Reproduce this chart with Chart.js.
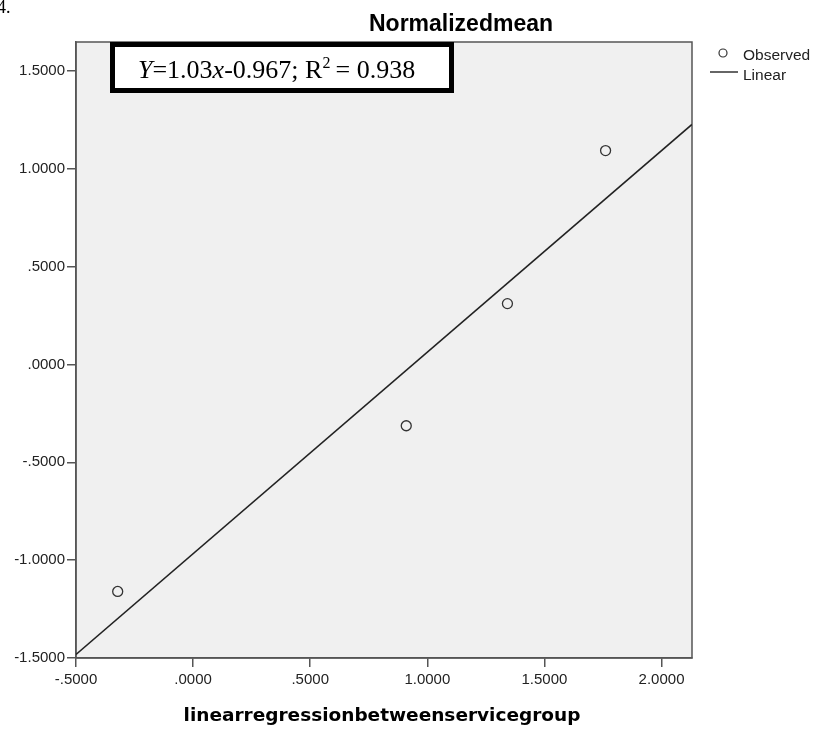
<!DOCTYPE html>
<html>
<head>
<meta charset="utf-8">
<script src="https://cdn.jsdelivr.net/npm/chart.js@4"></script>
<style>
  html, body { margin: 0; padding: 0; background: #fff; }
  #wrap { width: 815px; height: 729px; position: relative; }
</style>
</head>
<body>
<div id="wrap"><canvas id="chart"></canvas></div>
<script>
// observed points
const observedX = [-0.322, 0.910, 1.342, 1.761];
const observedY = [-1.160, -0.313, 0.311, 1.093];
// fitted line end points (Y = 1.03x - 0.967)
const fitX = [-0.5, 2.13];
const fitY = [-1.482, 1.227];

const xTicks = [-0.5, 0, 0.5, 1.0, 1.5, 2.0];
const xTickLabels = ['-.5000', '.0000', '.5000', '1.0000', '1.5000', '2.0000'];
const yTicks = [-1.5, -1.0, -0.5, 0, 0.5, 1.0, 1.5];
const yTickLabels = ['-1.5000', '-1.0000', '-.5000', '.0000', '.5000', '1.0000', '1.5000'];

const chartTitle = 'Normalizedmean';
const xTitle = 'linearregressionbetweenservicegroup';
const seriesNames = ['Observed', 'Linear'];

const AXIS = '#555';

const decor = {
    id: 'decor',
    beforeDraw(chart) {
        const { ctx, chartArea: a } = chart;
        ctx.save();
        ctx.fillStyle = '#f0f0f0';
        ctx.fillRect(a.left, a.top, a.right - a.left, a.bottom - a.top);
        ctx.strokeStyle = AXIS;
        ctx.lineWidth = 1.5;
        ctx.strokeRect(a.left, a.top, a.right - a.left, a.bottom - a.top);
        ctx.restore();
    },
    afterDraw(chart) {
        const { ctx } = chart;
        ctx.save();

        // stray figure number at top-left (cut off in the source)
        ctx.fillStyle = '#000';
        ctx.font = '18px "Liberation Serif"';
        ctx.textBaseline = 'alphabetic';
        ctx.fillText('4.', -3, 13);

        // title
        ctx.font = 'bold 23px "Liberation Sans", Arial';
        ctx.textAlign = 'center';
        ctx.fillText(chartTitle, 461, 31);

        // x axis title
        ctx.font = 'bold 18.5px "DejaVu Sans", Verdana';
        ctx.fillText(xTitle, 382, 721);

        // legend
        ctx.textAlign = 'left';
        ctx.font = '15.5px "Liberation Sans", Arial';
        ctx.fillStyle = '#222';
        ctx.strokeStyle = '#333';
        ctx.lineWidth = 1.2;
        ctx.beginPath();
        ctx.arc(723, 53, 4, 0, Math.PI * 2);
        ctx.stroke();
        ctx.fillText(seriesNames[0], 743, 60);
        ctx.lineWidth = 1.5;
        ctx.beginPath();
        ctx.moveTo(710, 72);
        ctx.lineTo(738, 72);
        ctx.stroke();
        ctx.fillText(seriesNames[1], 743, 80);

        // equation box
        ctx.fillStyle = '#fff';
        ctx.fillRect(112, 44, 340, 47);
        ctx.strokeStyle = '#000';
        ctx.lineWidth = 5;
        ctx.strokeRect(112.5, 44.5, 339, 46);

        const parts = [
            ['Y', true, false], ['=1.03', false, false], ['x', true, false],
            ['-0.967; R', false, false], ['2', false, true], ['\u2009= 0.938', false, false]
        ];
        let x = 138;
        const base = 78;
        ctx.fillStyle = '#000';
        for (const [t, it, sup] of parts) {
            const size = sup ? 16 : 26;
            ctx.font = (it ? 'italic ' : '') + size + 'px "Liberation Serif", "Times New Roman"';
            ctx.fillText(t, x, sup ? base - 10 : base);
            x += ctx.measureText(t).width;
        }
        ctx.restore();
    }
};

new Chart(document.getElementById('chart'), {
    type: 'scatter',
    data: {
        datasets: [
            {
                label: seriesNames[0],
                data: observedX.map((v, i) => ({ x: v, y: observedY[i] })),
                pointStyle: 'circle',
                pointRadius: 5,
                pointBorderWidth: 1.3,
                borderColor: '#333',
                backgroundColor: 'rgba(0,0,0,0)',
                order: 1
            },
            {
                label: seriesNames[1],
                data: fitX.map((v, i) => ({ x: v, y: fitY[i] })),
                showLine: true,
                pointRadius: 0,
                borderColor: '#222',
                borderWidth: 1.6,
                order: 2
            }
        ]
    },
    options: {
        responsive: true,
        maintainAspectRatio: false,
        animation: false,
        layout: { padding: { top: 42, right: 123, left: 0, bottom: 0 } },
        plugins: {
            legend: { display: false },
            title: { display: false },
            tooltip: { enabled: false }
        },
        scales: {
            x: {
                type: 'linear',
                min: -0.5,
                max: 2.13,
                afterFit(s) { s.height = 71; },
                afterBuildTicks(s) { s.ticks = xTicks.map(v => ({ value: v })); },
                grid: { drawOnChartArea: false, color: AXIS, tickLength: 9, lineWidth: 1.5 },
                border: { color: AXIS, width: 1.5 },
                ticks: {
                    color: '#222',
                    font: { family: '"Liberation Sans", Arial', size: 15 },
                    padding: 4,
                    maxRotation: 0,
                    callback: (v) => xTickLabels[xTicks.indexOf(v)]
                }
            },
            y: {
                type: 'linear',
                min: -1.5,
                max: 1.648,
                afterFit(s) { s.width = 76; },
                afterBuildTicks(s) { s.ticks = yTicks.map(v => ({ value: v })); },
                grid: { drawOnChartArea: false, color: AXIS, tickLength: 9, lineWidth: 1.5 },
                border: { color: AXIS, width: 1.5 },
                ticks: {
                    color: '#222',
                    font: { family: '"Liberation Sans", Arial', size: 15 },
                    padding: 2,
                    callback: (v) => yTickLabels[yTicks.indexOf(v)]
                }
            }
        }
    },
    plugins: [decor]
});
</script>
</body>
</html>
